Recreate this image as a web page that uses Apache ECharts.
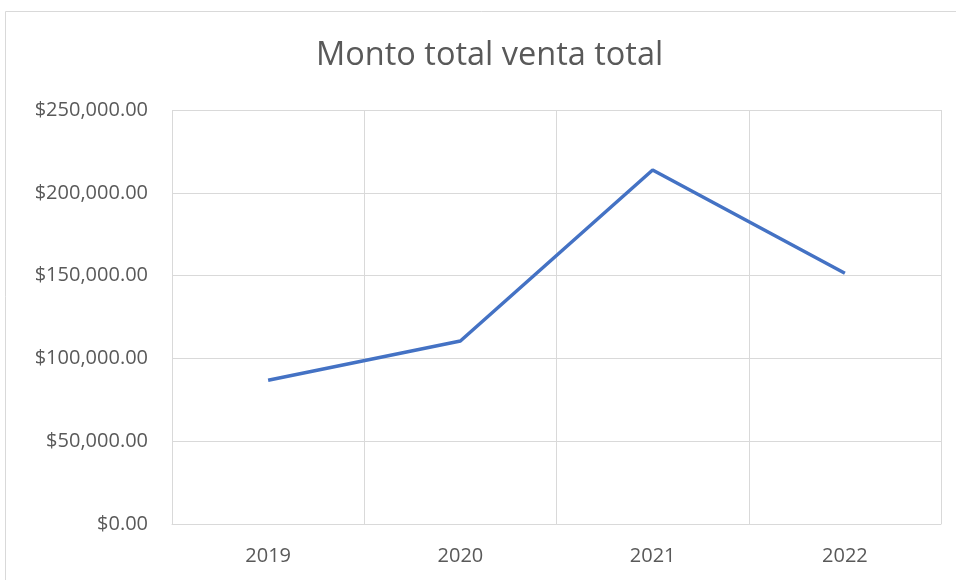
<!DOCTYPE html>
<html>
<head>
<meta charset="utf-8">
<script src="https://cdn.jsdelivr.net/npm/echarts@6/dist/echarts.min.js"></script>
<style>
  html, body { margin: 0; padding: 0; background: #fff; }
  #chart { width: 956px; height: 580px; }
</style>
</head>
<body>
<div id="chart"></div>
<script>
// datos del grafico
var years = ['2019', '2020', '2021', '2022'];
var montoTotal = [86800, 110500, 213800, 151400];

var fontFam = '"Open Sans", "Noto Sans", sans-serif';

function fmtMoney(v) {
	return '$' + v.toLocaleString('en-US', { minimumFractionDigits: 2, maximumFractionDigits: 2 });
}

var chart = echarts.init(document.getElementById('chart'));
var option = {
	animation: false,
	backgroundColor: '#fff',
	title: {
		text: 'Monto total venta total',
		left: 311,
		top: 34,
		textStyle: { fontFamily: fontFam, fontSize: 32.5, fontWeight: 'normal', color: '#595959' }
	},
	graphic: [{
		type: 'rect',
		shape: { x: 5.5, y: 11.5, width: 1000, height: 1000 },
		style: { fill: 'none', stroke: '#d9d9d9', lineWidth: 1 },
		silent: true
	}],
	grid: { left: 172, right: 15, top: 110, bottom: 56 },
	xAxis: {
		type: 'category',
		data: years,
		boundaryGap: true,
		axisLine: { lineStyle: { color: '#d9d9d9', width: 1 } },
		axisTick: { show: false },
		axisLabel: { fontFamily: fontFam, fontSize: 20, color: '#595959', margin: 22 },
		splitLine: { show: true, lineStyle: { color: '#d9d9d9', width: 1 } }
	},
	yAxis: {
		type: 'value',
		min: 0,
		max: 250000,
		interval: 50000,
		axisLine: { show: false },
		axisTick: { show: false },
		axisLabel: { fontFamily: fontFam, fontSize: 20, color: '#595959', margin: 24, formatter: fmtMoney },
		splitLine: { lineStyle: { color: '#d9d9d9', width: 1 } }
	},
	series: [{
		type: 'line',
		data: montoTotal,
		symbol: 'none',
		lineStyle: { color: '#4472c4', width: 3.5 }
	}]
};
chart.setOption(option);
</script>
</body>
</html>
